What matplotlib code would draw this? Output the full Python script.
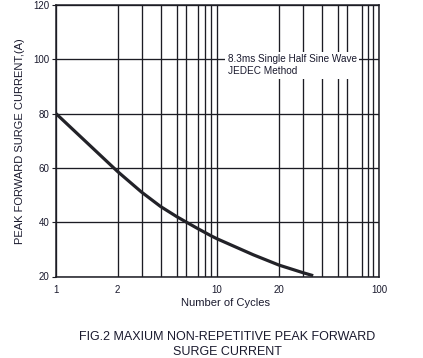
import matplotlib
matplotlib.use("Agg")
import numpy as np
import matplotlib.pyplot as plt
from matplotlib.ticker import FixedLocator, NullFormatter, FixedFormatter

plt.rcParams['font.family'] = ['Liberation Sans', 'DejaVu Sans']

cycles = [1, 2, 3, 4, 5, 6, 7, 8, 9, 10, 15, 20, 30, 35]
current = [80, 58.7, 51.1, 45.8, 42.1, 40.2, 37.6, 36.3, 35.0, 33.9, 28.0, 24.2, 21.4, 20.3]

x_major = [1, 2, 10, 20, 100]
x_major_labels = ['1', '2', '10', '20', '100']
x_grid = [1, 2, 3, 4, 5, 6, 7, 8, 9, 10, 20, 30, 40, 50, 60, 70, 80, 90, 100]
y_ticks = [20, 40, 60, 80, 100, 120]

# the printed chart's log axis is hand-drawn: where each grid line sits (fraction of axis width)
grid_frac = np.array([0, 61.5, 85.5, 104.5, 120.5, 129.5, 142, 148.5, 155, 161,
                      223, 247, 266, 282, 291, 306, 312, 317, 323]) / 323.0
grid_log = np.log10(x_grid)


def fwd(x):
    x = np.asarray(x, dtype=float)
    lx = np.log10(np.clip(x, 1e-12, None))
    return np.interp(lx, grid_log, grid_frac)


def inv(f):
    f = np.asarray(f, dtype=float)
    return 10 ** np.interp(f, grid_frac, grid_log)


ink = '#1c1c24'

fig = plt.figure(figsize=(4.23, 3.58), dpi=100)
ax = fig.add_axes([56/423, 1-276.5/358, (379-56)/423, (276.5-5)/358])
ax.set_xscale('function', functions=(fwd, inv))
ax.set_xlim(1, 100)
ax.set_ylim(20, 120)

for xv in x_grid:
    ax.axvline(xv, color=ink, lw=0.95, zorder=1)
for yv in y_ticks:
    ax.axhline(yv, color=ink, lw=0.95, zorder=1)

ax.plot(cycles, current, color='#222228', lw=2.3, zorder=3, solid_capstyle='butt',
        solid_joinstyle='round')

ax.xaxis.set_major_locator(FixedLocator(x_major))
ax.xaxis.set_major_formatter(FixedFormatter(x_major_labels))
ax.xaxis.set_minor_locator(FixedLocator([]))
ax.xaxis.set_minor_formatter(NullFormatter())
ax.set_yticks(y_ticks)
ax.tick_params(axis='x', length=0, pad=6, labelsize=7, labelcolor='#1a1a2e')
ax.tick_params(axis='y', length=3, width=0.8, pad=1.5, labelsize=7, labelcolor='#1a1a2e', color=ink)

for s in ax.spines.values():
    s.set_color(ink)
    s.set_linewidth(1.1)

ax.text(0.532, 0.779, '8.3ms Single Half Sine Wave\nJEDEC Method', transform=ax.transAxes,
        fontsize=7.2, color='#1a1a2e', va='center', ha='left', linespacing=1.25, zorder=4,
        bbox=dict(boxstyle='square,pad=0.25', facecolor='white', edgecolor='none'))

ax.set_ylabel('PEAK FORWARD SURGE CURRENT,(A)', fontsize=8, color='#1a1a2e', labelpad=6)
fig.text(225/423, 1-303/358, 'Number of Cycles', fontsize=8, color='#1a1a2e', ha='center', va='center')
fig.text(227/423, 1-337/358, 'FIG.2 MAXIUM NON-REPETITIVE PEAK FORWARD', fontsize=9, color='#1a1a2e', ha='center', va='center')
fig.text(227/423, 1-352/358, 'SURGE CURRENT', fontsize=9, color='#1a1a2e', ha='center', va='center')

fig.savefig('out.png', dpi=100, facecolor='white')
